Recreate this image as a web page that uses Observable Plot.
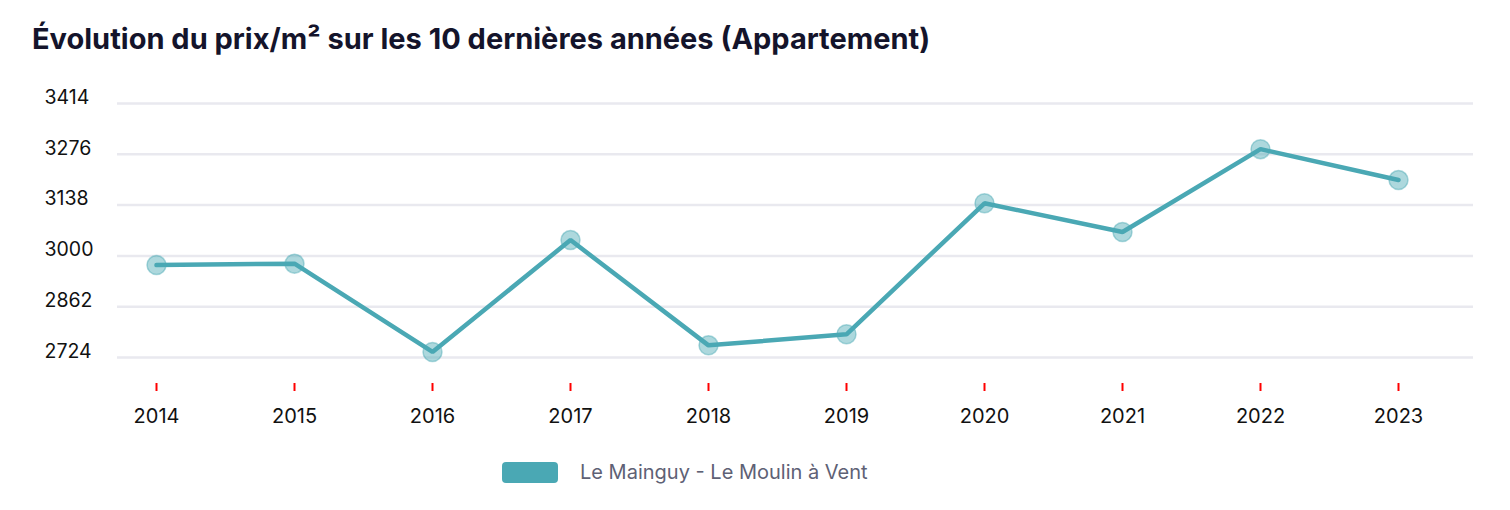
<!DOCTYPE html>
<html>
<head>
<meta charset="utf-8">
<script src="https://cdn.jsdelivr.net/npm/d3@7"></script>
<script src="https://cdn.jsdelivr.net/npm/@observablehq/plot@0.6"></script>
<style>
  html, body { margin: 0; padding: 0; background: #fff; width: 1510px; height: 510px; overflow: hidden; }
  body { position: relative; font-family: Inter, "Noto Sans", sans-serif; }
  #title { position: absolute; left: 32px; top: 21px; font-size: 29px; line-height: 36px; font-weight: 700; color: #14142b; white-space: nowrap; }
  #chart { position: absolute; left: 0; top: 80px; }
  #legend { position: absolute; left: 502px; top: 460px; display: flex; align-items: center; }
  #legend .sw { width: 56px; height: 21px; border-radius: 4px; background: #4aa8b4; }
  #legend .lb { margin-left: 22px; font-size: 20px; color: #5e6175; }
</style>
</head>
<body>
<div id="title">Évolution du prix/m² sur les 10 dernières années (Appartement)</div>
<div id="chart"></div>
<div id="legend"><div class="sw"></div><div class="lb">Le Mainguy - Le Moulin à Vent</div></div>
<script>
const years = [2014, 2015, 2016, 2017, 2018, 2019, 2020, 2021, 2022, 2023];
const prices = [2975, 2979, 2739, 3043, 2757, 2787, 3143, 3065, 3290, 3206];
const yTicks = [2724, 2862, 3000, 3138, 3276, 3414];
const seriesName = "Le Mainguy - Le Moulin à Vent";

const data = years.map((y, i) => ({year: y, price: prices[i], series: seriesName}));
const color = "#4aa8b4";

const chart = Plot.plot({
  width: 1510,
  height: 360,
  marginLeft: 117,
  marginRight: 37,
  marginTop: 23,
  marginBottom: 83,
  style: {fontFamily: "Inter, 'Noto Sans', sans-serif", background: "transparent"},
  x: {type: "point", domain: years, padding: 0, insetLeft: 39, insetRight: 75},
  y: {domain: [yTicks[0], yTicks[yTicks.length - 1]], axis: null},
  marks: [
    Plot.ruleY(yTicks, {stroke: "#e9e9ef", strokeWidth: 2.5}),
    Plot.text(yTicks, {y: d => d, text: d => String(d), frameAnchor: "left", dx: -73, dy: -6, textAnchor: "start", fontSize: 19.5, fill: "#111"}),
    Plot.axisX({ticks: years, tickSize: 8, stroke: "#ff0000", strokeWidth: 2, tickFormat: () => "", dy: 26, label: null}),
    Plot.axisX({ticks: years, tickSize: 0, tickFormat: d => String(d), fontSize: 20, fill: "#111", dy: 42, label: null}),
    Plot.dot(data, {x: "year", y: "price", r: 9.5, fill: color, fillOpacity: 0.45, stroke: color, strokeOpacity: 0.45, strokeWidth: 1.5}),
    Plot.line(data, {x: "year", y: "price", stroke: color, strokeWidth: 4.5, strokeLinejoin: "miter"})
  ]
});
document.getElementById("chart").appendChild(chart);
</script>
</body>
</html>
